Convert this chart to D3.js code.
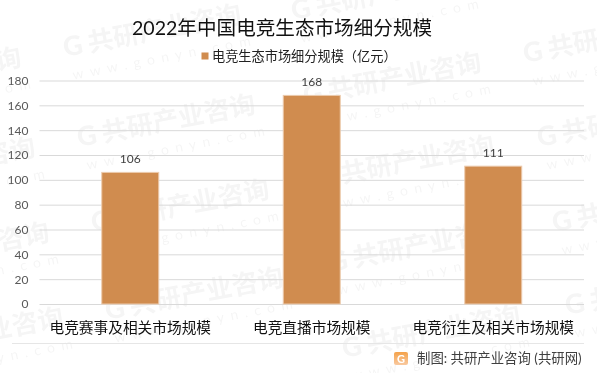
<!DOCTYPE html>
<html>
<head>
<meta charset="utf-8">
<script src="https://cdnjs.cloudflare.com/ajax/libs/d3/7.8.5/d3.min.js"></script>
<style>
  html, body { margin: 0; padding: 0; background: #fff; }
  svg { display: block; }
  text { font-family: Lato, "Noto Sans CJK SC", sans-serif; }
</style>
</head>
<body>
<svg id="chart" width="597" height="373"></svg>
<script>
const categories = ['电竞赛事及相关市场规模', '电竞直播市场规模', '电竞衍生及相关市场规模'];
const values = [106, 168, 111];
const yTicks = [0, 20, 40, 60, 80, 100, 120, 140, 160, 180];
const titleText = '2022年中国电竞生态市场细分规模';
const legendText = '电竞生态市场细分规模（亿元）';
const sourceText = '制图: 共研产业咨询 (共研网)';
// bottom-left corner of each repeated watermark stamp
const stamps = [
  [-155, 100], [-141, 190], [-127, 275], [-113, 360],
  [65, 57], [79, 147], [93, 232], [107, 320],
  [293, 20], [305, 105], [318, 188], [330, 272], [344, 358],
  [525, 63], [539, 147], [554, 232], [567, 315]
];

const svg = d3.select('#chart');
const plotL = 39.5, plotR = 584, plotT = 80.5, plotB = 304;

const x = d3.scaleBand().domain(categories).range([plotL, plotR]).paddingInner(0.686).paddingOuter(0.343);
const y = d3.scaleLinear().domain([0, 180]).range([plotB, plotT]);

// Watermark sits under the chart, very faint
const wm = svg.append('g').attr('opacity', 0.04)
  .selectAll('g')
  .data(stamps)
  .join('g')
  .attr('transform', d => `translate(${d[0]},${d[1]}) rotate(-11)`);
wm.append('text')
    .attr('font-size', '27px').attr('font-weight', 900)
    .attr('fill', '#000')
    .text('G');
wm.append('text')
    .attr('x', 25)
    .attr('font-size', '26px').attr('font-weight', 700)
    .attr('fill', '#000')
    .text('共研产业咨询');
wm.append('text')
    .attr('x', 4).attr('y', 24)
    .attr('font-size', '14px')
    .attr('letter-spacing', '6.5px')
    .attr('fill', '#000')
    .text('www.gonyn.com');

// Gridlines and tick labels
const yAxis = svg.append('g')
    .attr('transform', `translate(${plotL},0)`)
    .call(d3.axisLeft(y).tickValues(yTicks).tickSize(-(plotR - plotL)).tickPadding(11));
yAxis.select('.domain').remove();
yAxis.selectAll('line').attr('stroke', '#d9d9d9').attr('stroke-width', 1);
yAxis.selectAll('text').attr('fill', '#595959').attr('font-size', '12px');

svg.append('g').selectAll('rect')
    .data(values)
    .join('rect')
    .attr('x', (d, i) => x(categories[i]))
    .attr('y', d => y(d))
    .attr('width', x.bandwidth())
    .attr('height', d => plotB - y(d))
    .attr('fill', '#d08c4f')
    .attr('stroke', '#eccbae')
    .attr('stroke-width', 1);

// Value labels
svg.append('g').selectAll('text')
    .data(values)
    .join('text')
    .attr('x', (d, i) => x(categories[i]) + x.bandwidth() / 2)
    .attr('y', d => y(d) - 9)
    .attr('text-anchor', 'middle')
    .attr('font-size', '12px')
    .attr('fill', '#404040')
    .text(d => d);

// Category labels
svg.append('g').selectAll('text')
    .data(categories)
    .join('text')
    .attr('x', d => x(d) + x.bandwidth() / 2)
    .attr('y', 333)
    .attr('text-anchor', 'middle')
    .attr('font-size', '14.7px')
    .attr('fill', '#111')
    .text(d => d);

svg.append('line')
    .attr('x1', 12).attr('x2', plotR)
    .attr('y1', 343.5).attr('y2', 343.5)
    .attr('stroke', '#e6e6e6');

svg.append('text')
    .attr('x', 282).attr('y', 35)
    .attr('text-anchor', 'middle')
    .attr('font-size', '19.6px')
    .attr('fill', '#111')
    .text(titleText);

svg.append('rect')
    .attr('x', 201.5).attr('y', 52.5)
    .attr('width', 7).attr('height', 7)
    .attr('fill', '#d08c4f');
svg.append('text')
    .attr('x', 212).attr('y', 61)
    .attr('font-size', '13.2px')
    .attr('fill', '#222')
    .text(legendText);

// Footer logo and source
const grad = svg.append('defs').append('linearGradient')
    .attr('id', 'logoGrad').attr('x1', 0).attr('y1', 0).attr('x2', 0).attr('y2', 1);
grad.append('stop').attr('offset', 0).attr('stop-color', '#f4a24a');
grad.append('stop').attr('offset', 1).attr('stop-color', '#f9c9a0');
svg.append('rect')
    .attr('x', 394).attr('y', 352)
    .attr('width', 14).attr('height', 13).attr('rx', 2)
    .attr('fill', 'url(#logoGrad)');
svg.append('text')
    .attr('x', 401).attr('y', 363)
    .attr('text-anchor', 'middle')
    .attr('font-size', '11px').attr('font-weight', 700)
    .attr('fill', '#fff')
    .text('G');
svg.append('text')
    .attr('x', 417).attr('y', 363)
    .attr('font-size', '13.4px')
    .attr('fill', '#404040')
    .text(sourceText);
</script>
</body>
</html>
